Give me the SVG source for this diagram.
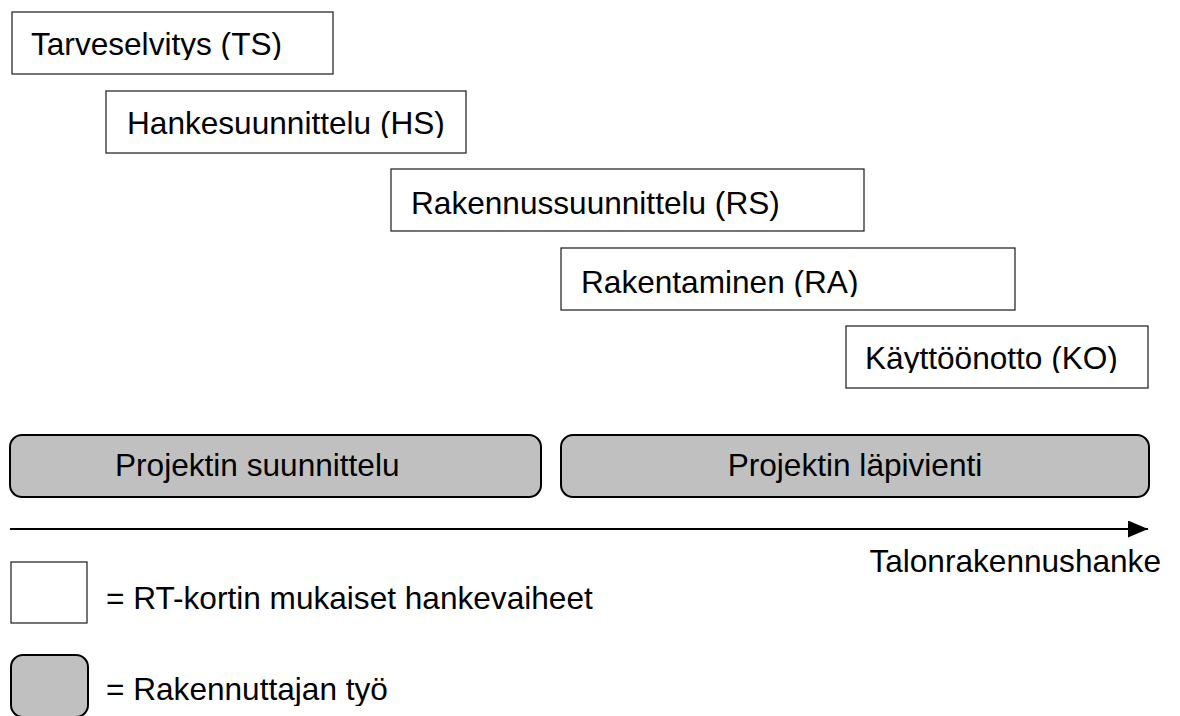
<svg xmlns="http://www.w3.org/2000/svg" width="1180" height="716" viewBox="0 0 1180 716">
  <style>
    .phase { fill: #ffffff; stroke: #1a1a1a; stroke-width: 1.2; }
    .work { fill: #c0c0c0; stroke: #000000; stroke-width: 2; }
    .lbl { font-family: "Liberation Sans", Arial, sans-serif; font-size: 31.6px; fill: #000000; }
    .axis { stroke: #000000; stroke-width: 2; fill: none; }
  </style>
  <defs>
    <marker id="arrow" viewBox="0 0 20 17" refX="20" refY="8.5" markerWidth="20" markerHeight="17" markerUnits="userSpaceOnUse" orient="auto">
      <path d="M0,0 L20,8.5 L0,17 Z" fill="#000000"/>
    </marker>
    <!-- text frames cut the glyphs just below the baseline -->
    <clipPath id="cTS"><rect x="0" y="0" width="1180" height="60"/></clipPath>
    <clipPath id="cHS"><rect x="0" y="80" width="1180" height="58"/></clipPath>
    <clipPath id="cRS"><rect x="0" y="160" width="1180" height="61"/></clipPath>
    <clipPath id="cRA"><rect x="0" y="240" width="1180" height="57"/></clipPath>
    <clipPath id="cKO"><rect x="0" y="320" width="1180" height="53"/></clipPath>
    <clipPath id="cL2"><rect x="0" y="650" width="1180" height="56"/></clipPath>
  </defs>

  <!-- project phases -->
  <g id="ts">
    <rect class="phase" x="12" y="12" width="321" height="62"/>
    <text class="lbl" x="31" y="55" clip-path="url(#cTS)">Tarveselvitys (TS)</text>
  </g>
  <g id="hs">
    <rect class="phase" x="106" y="91" width="360" height="62"/>
    <text class="lbl" x="127" y="133.5" clip-path="url(#cHS)">Hankesuunnittelu (HS)</text>
  </g>
  <g id="rs">
    <rect class="phase" x="391" y="169" width="473" height="62"/>
    <text class="lbl" x="411" y="214" clip-path="url(#cRS)">Rakennussuunnittelu (RS)</text>
  </g>
  <g id="ra">
    <rect class="phase" x="561" y="248" width="454" height="62"/>
    <text class="lbl" x="581" y="293" clip-path="url(#cRA)">Rakentaminen (RA)</text>
  </g>
  <g id="ko">
    <rect class="phase" x="846" y="326" width="302" height="62"/>
    <text class="lbl" x="865" y="369" clip-path="url(#cKO)">Käyttöönotto (KO)</text>
  </g>

  <!-- client work -->
  <g id="suunnittelu">
    <rect class="work" x="10" y="435" width="531" height="62" rx="12" ry="12"/>
    <text class="lbl" x="115" y="476">Projektin suunnittelu</text>
  </g>
  <g id="lapivienti">
    <rect class="work" x="561" y="435" width="588" height="62" rx="12" ry="12"/>
    <text class="lbl" x="855" y="476" text-anchor="middle">Projektin läpivienti</text>
  </g>

  <!-- time axis -->
  <g id="connectors">
    <line class="axis" x1="10" y1="529" x2="1148" y2="529" marker-end="url(#arrow)"/>
  </g>
  <text class="lbl" x="1161" y="572" text-anchor="end">Talonrakennushanke</text>

  <!-- legend -->
  <g id="legend-phase">
    <rect class="phase" x="11" y="562" width="76" height="61"/>
    <text class="lbl" x="106" y="609">= RT-kortin mukaiset hankevaiheet</text>
  </g>
  <g id="legend-work">
    <rect class="work" x="11" y="655" width="77" height="62" rx="12" ry="12"/>
    <text class="lbl" x="106" y="700" clip-path="url(#cL2)">= Rakennuttajan työ</text>
  </g>
</svg>
